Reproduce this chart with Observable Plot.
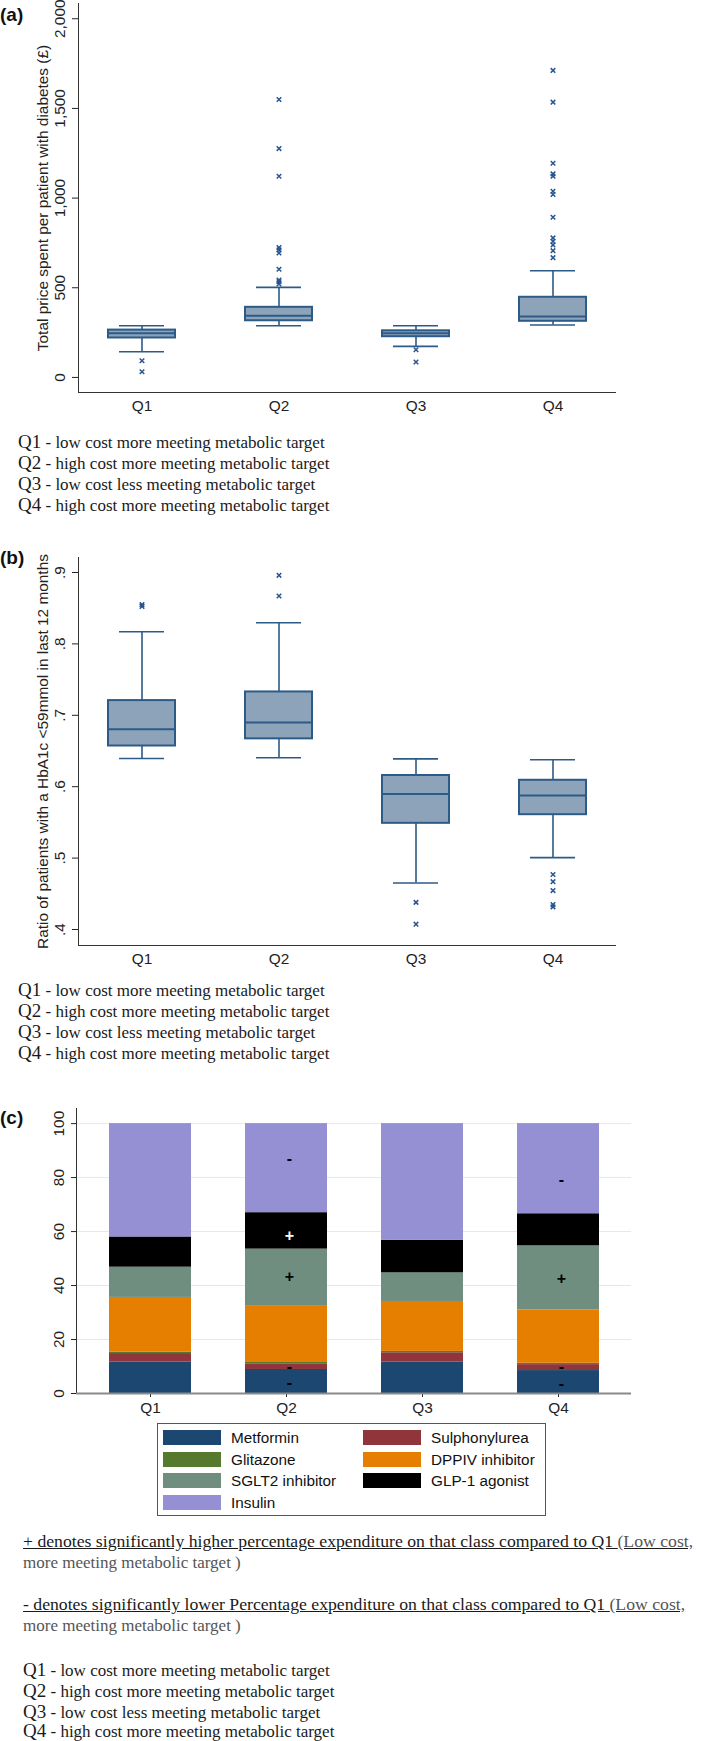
<!DOCTYPE html>
<html><head><meta charset="utf-8">
<script src="https://cdn.jsdelivr.net/npm/d3@7"></script>
<script src="https://cdn.jsdelivr.net/npm/@observablehq/plot@0.6"></script>
<style>
body{margin:0;background:#fff;}
#page{position:relative;width:709px;height:1741px;overflow:hidden;font-family:"Liberation Sans",Arial,sans-serif;}
.panel{position:absolute;left:0;}
.tag{position:absolute;left:0;font-weight:bold;font-size:19px;line-height:22px;font-family:"Liberation Sans",Arial,sans-serif;color:#111;}
.note{position:absolute;white-space:nowrap;font-family:"Liberation Serif","Times New Roman",serif;font-size:17px;line-height:21px;color:#1a1a1a;}
.note.tight{line-height:19px;}
.note .q{font-size:19px;}
.foot{position:absolute;white-space:nowrap;font-family:"Liberation Serif","Times New Roman",serif;font-size:17.7px;line-height:20px;color:#1a1a1a;}
.foot.small{font-size:17px;color:#555;}
.grey{color:#555;}
#legend{position:absolute;left:157px;top:1423px;width:389px;height:93px;border:1px solid #555;box-sizing:border-box;}
.sw{position:absolute;width:58px;height:15px;}
.lt{position:absolute;font-size:15.3px;line-height:17px;color:#111;white-space:nowrap;}
</style>
</head><body>
<div id="page"></div>
<script>
// ---------- shared categories ----------
const quarters = ["Q1", "Q2", "Q3", "Q4"];
const quarterNotes = [
  "low cost more meeting metabolic target",
  "high cost more meeting metabolic target",
  "low cost less meeting metabolic target",
  "high cost more meeting metabolic target"
];

// ---------- panel (a): total price per patient (£) ----------
const costTitle = "Total price spent per patient with diabetes (£)";
const costLow    = [143, 288, 173, 292];
const costP25    = [220, 316, 227, 313];
const costMedian = [247, 344, 246, 340];
const costP75    = [264, 391, 260, 447];
const costHigh   = [288, 502, 288, 595];
const costOutQ1 = [93, 32];
const costOutQ2 = [1550, 1276, 1122, 724, 711, 694, 603, 543, 534, 521];
const costOutQ3 = [154, 86];
const costOutQ4 = [1712, 1535, 1194, 1135, 1122, 1038, 1020, 893, 778, 759, 739, 707, 668];
const costTicks = [0, 500, 1000, 1500, 2000];

// ---------- panel (b): ratio HbA1c < 59mmol ----------
const ratioTitle = "Ratio of patients with a HbA1c <59mmol in last 12 months";
const ratioLow    = [0.6395, 0.6405, 0.4652, 0.5007];
const ratioP25    = [0.657, 0.667, 0.5487, 0.5608];
const ratioMedian = [0.6805, 0.690, 0.5897, 0.5878];
const ratioP75    = [0.7206, 0.7327, 0.6157, 0.609];
const ratioHigh   = [0.817, 0.8296, 0.639, 0.6377];
const ratioOutQ1 = [0.855, 0.8525];
const ratioOutQ2 = [0.896, 0.867];
const ratioOutQ3 = [0.438, 0.4075];
const ratioOutQ4 = [0.477, 0.467, 0.4545, 0.435, 0.4317];
const ratioTicks = [0.4, 0.5, 0.6, 0.7, 0.8, 0.9];

// ---------- panel (c): percentage expenditure by class ----------
const drugClasses = ["Metformin", "Sulphonylurea", "Glitazone", "DPPIV inhibitor", "SGLT2 inhibitor", "GLP-1 agonist", "Insulin"];
const classColors = ["#1b4771", "#90353b", "#557a2e", "#e67e00", "#6f8e80", "#000000", "#958fd3"];
const pctMetformin = [11.6, 8.9, 11.6, 8.5];
const pctSulphonylurea = [3.2, 2.1, 3.5, 2.2];
const pctGlitazone = [0.5, 0.5, 0.5, 0.5];
const pctDPPIV = [20.3, 20.8, 18.5, 19.8];
const pctSGLT2 = [11.2, 21.2, 10.6, 23.7];
const pctGLP1 = [11.2, 13.5, 12.1, 11.9];
const pctInsulin = [42.0, 33.0, 43.2, 33.4];
const pctTicks = [0, 20, 40, 60, 80, 100];
const sigQuarter = ["Q2", "Q2", "Q2", "Q2", "Q2", "Q4", "Q4", "Q4", "Q4"];
const sigValue   = [86.8, 58.4, 43.1, 9.9, 4.1, 79.3, 42.5, 10.0, 3.5];
const sigSymbol  = ["-", "+", "+", "-", "-", "-", "+", "-", "-"];
const sigOnDark  = [false, true, false, false, false, false, false, false, false];

const footPlus = "+ denotes significantly higher percentage expenditure on that class compared to Q1 ";
const footMinus = "- denotes significantly lower Percentage expenditure on that class compared to Q1 ";
const footRef = "(Low cost,";
const footRef2 = "more meeting metabolic target )";

// ---------- styles ----------
const boxFill = "#8da3ba", boxStroke = "#2c5b88", markColor = "#2a5690", axisColor = "#333";
const page = document.getElementById("page");
const fontStyle = {fontFamily: "'Liberation Sans', Arial, sans-serif", fontSize: "15.4px", color: "#222", background: "#fff", overflow: "visible"};

function place(el, top) { el.classList.add("panel"); el.style.top = top + "px"; page.appendChild(el); }

function boxPanel(o) {
  const stats = quarters.map((q, i) => ({q, lo: o.low[i], a: o.p25[i], m: o.med[i], b: o.p75[i], hi: o.high[i]}));
  const outliers = quarters.flatMap((q, i) => o.outs[i].map(v => ({q, v})));
  return Plot.plot({
    width: 709, height: o.height, marginLeft: 78, marginRight: 93, marginTop: o.marginTop, marginBottom: o.marginBottom,
    style: fontStyle,
    x: {type: "band", domain: quarters, paddingInner: 0.512, paddingOuter: 0.215, tickSize: 0, tickPadding: 8, label: null},
    y: {domain: o.domain, ticks: o.ticks, tickSize: 6, tickFormat: () => "", label: null},
    marks: [
      Plot.frame({anchor: "left", stroke: axisColor}),
      Plot.ruleY([o.domain[0]], {stroke: axisColor}),
      Plot.ruleX(stats, {x: "q", y1: "b", y2: "hi", stroke: boxStroke, strokeWidth: 1.6}),
      Plot.ruleX(stats, {x: "q", y1: "lo", y2: "a", stroke: boxStroke, strokeWidth: 1.6}),
      Plot.tickY(stats, {x: "q", y: "hi", insetLeft: 11, insetRight: 11, stroke: boxStroke, strokeWidth: 1.6}),
      Plot.tickY(stats, {x: "q", y: "lo", insetLeft: 11, insetRight: 11, stroke: boxStroke, strokeWidth: 1.6}),
      Plot.barY(stats, {x: "q", y1: "a", y2: "b", fill: boxFill, stroke: boxStroke, strokeWidth: 2}),
      Plot.tickY(stats, {x: "q", y: "m", stroke: boxStroke, strokeWidth: 2}),
      Plot.dot(outliers, {x: "q", y: "v", symbol: "times", r: 2.2, stroke: markColor, strokeWidth: 1.5}),
      Plot.text(o.ticks, {y: d => d, text: o.fmt, frameAnchor: "left", dx: -18, rotate: -90, lineAnchor: "middle", textAnchor: "middle", fill: "#222"}),
      Plot.text([o.title], {text: d => d, frameAnchor: "left", dx: -35, rotate: -90, lineAnchor: "middle", textAnchor: "middle", fill: "#222"})
    ]
  });
}

function addTag(label, top) {
  const d = document.createElement("div"); d.className = "tag"; d.style.top = top + "px"; d.textContent = label; page.appendChild(d);
}
function addQNotes(tops, left, cls) {
  quarters.forEach((q, i) => {
    const d = document.createElement("div"); d.className = "note" + (cls ? " " + cls : "");
    d.style.top = tops[i] + "px"; d.style.left = left + "px";
    d.innerHTML = `<span class="q">${q}</span> - ${quarterNotes[i]}`;
    page.appendChild(d);
  });
}

// panel (a)
place(boxPanel({low: costLow, p25: costP25, med: costMedian, p75: costP75, high: costHigh,
  outs: [costOutQ1, costOutQ2, costOutQ3, costOutQ4], ticks: costTicks, domain: [-84, 2085],
  fmt: d => d3.format(",")(d), title: costTitle, height: 425, marginTop: 3, marginBottom: 33}), 0);
addTag("(a)", 4);
addQNotes([431, 452, 473, 494], 18);

// panel (b)
place(boxPanel({low: ratioLow, p25: ratioP25, med: ratioMedian, p75: ratioP75, high: ratioHigh,
  outs: [ratioOutQ1, ratioOutQ2, ratioOutQ3, ratioOutQ4], ticks: ratioTicks, domain: [0.3776, 0.921],
  fmt: d => d3.format(".1f")(d).replace(/^0/, ""), title: ratioTitle, height: 430, marginTop: 17, marginBottom: 25}), 540);
addTag("(b)", 547);
addQNotes([979, 1000, 1021, 1042], 18);

// panel (c)
const pctSeries = [pctMetformin, pctSulphonylurea, pctGlitazone, pctDPPIV, pctSGLT2, pctGLP1, pctInsulin];
const stackRows = quarters.flatMap((q, i) => drugClasses.map((c, j) => ({q, c, v: pctSeries[j][i]})));
const sigRows = sigQuarter.map((q, i) => ({q, v: sigValue[i], s: sigSymbol[i], dark: sigOnDark[i]}));
place(Plot.plot({
  width: 709, height: 335, marginLeft: 76, marginRight: 78, marginTop: 18, marginBottom: 32,
  style: fontStyle,
  x: {type: "band", domain: quarters, paddingInner: 0.4, paddingOuter: 0.233, tickSize: 4, tickPadding: 5, label: null},
  y: {domain: [0, 105.6], ticks: pctTicks, tickSize: 5, tickFormat: () => "", label: null},
  color: {domain: drugClasses, range: classColors},
  marks: [
    Plot.ruleY(pctTicks.slice(1), {stroke: "#dfe9ef", strokeWidth: 1}),
    Plot.barY(stackRows, {x: "q", y: "v", fill: "c"}),
    Plot.frame({anchor: "left", stroke: axisColor}),
    Plot.ruleY([0], {stroke: "#8a8a8a", strokeWidth: 2}),
    Plot.text(sigRows.filter(d => !d.dark), {x: "q", y: "v", text: "s", dx: 3, fill: "#000", fontSize: 16, fontWeight: "bold"}),
    Plot.text(sigRows.filter(d => d.dark), {x: "q", y: "v", text: "s", dx: 3, fill: "#fff", fontSize: 16, fontWeight: "bold"}),
    Plot.text(pctTicks, {y: d => d, text: d => String(d), frameAnchor: "left", dx: -17, rotate: -90, lineAnchor: "middle", textAnchor: "middle", fill: "#222"})
  ]
}), 1090);
addTag("(c)", 1107);

// legend
const legend = document.createElement("div"); legend.id = "legend";
const rowTops = [6, 28, 49, 71];
drugClasses.forEach((c, i) => {
  const col = i % 2, row = Math.floor(i / 2);
  const sw = document.createElement("div"); sw.className = "sw";
  sw.style.left = (col ? 205 : 5) + "px"; sw.style.top = rowTops[row] + "px"; sw.style.background = classColors[i];
  const t = document.createElement("div"); t.className = "lt";
  t.style.left = (col ? 273 : 73) + "px"; t.style.top = (rowTops[row] - 1) + "px"; t.textContent = c;
  legend.appendChild(sw); legend.appendChild(t);
});
page.appendChild(legend);

// footnotes
function addFoot(top, html, cls) {
  const d = document.createElement("div"); d.className = "foot" + (cls ? " " + cls : ""); d.style.top = top + "px"; d.style.left = "23px"; d.innerHTML = html; page.appendChild(d);
}
addFoot(1531, `<u>${footPlus}<span class="grey">${footRef}</span></u>`);
addFoot(1553, footRef2, "small");
addFoot(1594, `<u>${footMinus}<span class="grey">${footRef}</span></u>`);
addFoot(1616, footRef2, "small");
addQNotes([1660, 1681, 1702, 1721], 23, "tight");
</script>
</body></html>
